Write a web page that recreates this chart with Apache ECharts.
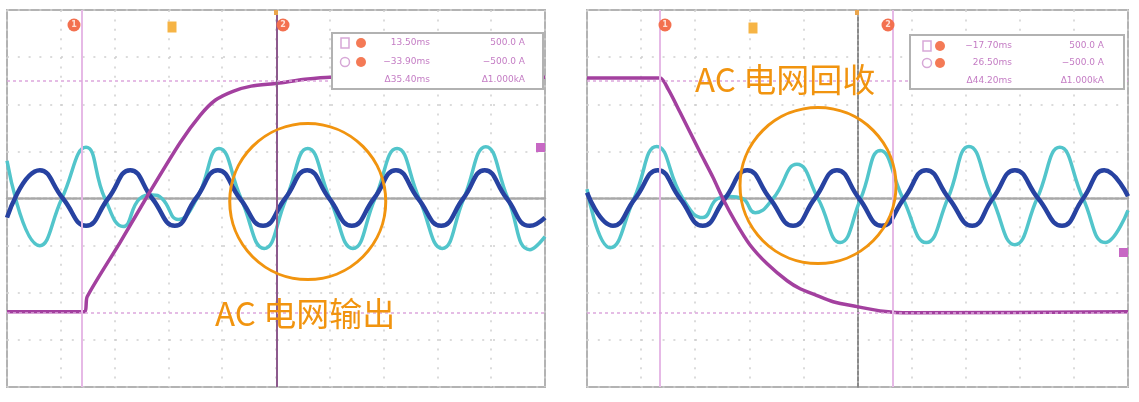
<!DOCTYPE html>
<html><head><meta charset="utf-8">
<script src="https://cdn.jsdelivr.net/npm/echarts@6/dist/echarts.min.js"></script>
<style>html,body{margin:0;padding:0;background:#fff}#c{width:1139px;height:402px}</style>
</head><body><div id="c"></div>
<script>
// ---- data: time in ms (10 ms/div), value in A (200 A/div) ----
const leftBlue = [[-50.0,-81],[-43.9,120],[-39.6,0],[-35.3,-116],[-31.2,0],[-27.1,120],[-23.0,0],[-18.8,-116],[-14.9,0],[-10.8,120],[-6.7,0],[-2.4,-116],[1.7,0],[5.8,120],[9.9,0],[14.1,-116],[18.2,0],[22.3,120],[26.4,0],[30.7,-116],[34.8,0],[38.8,120],[42.9,0],[47.2,-116],[50.0,-81]];
const leftCyan = [[-50.0,160],[-43.9,-200],[-39.8,0],[-35.3,217],[-31.8,0],[-28.4,-119],[-25.3,0],[-23.0,15],[-21.2,0],[-18.2,-89],[-14.7,0],[-10.6,212],[-6.5,0],[-2.2,-212],[1.9,0],[5.9,212],[10.0,0],[14.3,-212],[18.4,0],[22.5,212],[26.6,0],[30.9,-212],[34.9,0],[39.0,220],[43.1,0],[47.2,-217],[50.0,-162]];
const leftPurple = [[-50.0,-481],[-35.7,-481],[-35.1,-417],[-29.0,-187],[-23.4,30],[-17.8,238],[-14.1,353],[-11.3,417],[-8.0,455],[-4.6,477],[0.2,489],[5.4,506],[10.0,515],[50.0,515]];

const rightBlue = [[-50.0,25],[-45.2,-116],[-41.1,0],[-36.9,120],[-32.8,0],[-28.6,-116],[-24.5,0],[-20.4,120],[-16.2,0],[-11.9,-116],[-7.9,0],[-3.8,120],[0.3,0],[4.5,-116],[8.6,0],[12.7,120],[16.9,0],[21.2,-116],[25.0,0],[29.1,120],[33.4,0],[37.8,-116],[41.7,0],[45.6,120],[50.0,10]];
const rightCyan = [[-50.0,40],[-45.7,-209],[-41.3,0],[-37.1,221],[-32.3,0],[-28.6,-81],[-25.8,0],[-23.6,8],[-21.3,0],[-18.9,-60],[-15.6,0],[-11.2,145],[-7.3,0],[-3.2,-187],[0.6,0],[4.2,204],[8.4,0],[12.7,-187],[16.7,0],[20.6,221],[24.9,0],[29.1,-196],[33.2,0],[37.4,217],[41.7,0],[45.8,-187],[50.0,-50]];
const rightPurple = [[-50.0,511],[-36.5,511],[-35.0,464],[-32.8,366],[-29.1,196],[-26.7,89],[-24.9,0],[-22.6,-98],[-19.9,-196],[-16.7,-277],[-13.0,-349],[-10.6,-383],[-7.9,-408],[-4.5,-438],[-0.1,-459],[4.2,-477],[9.7,-485],[50.0,-481]];

const leftCursorX = [-36.1, 0.2];
const rightCursorX = [-36.5, 6.6];
const cursorLevels = [500, -485];
const leftCircleCenter = [[5.9, -13]];
const rightCircleCenter = [[-7.3, 55]];

const leftLegendTimes = ['13.50ms', '\u221233.90ms', '\u039435.40ms'];
const rightLegendTimes = ['\u221217.70ms', '26.50ms', '\u039444.20ms'];
const legendAmps = ['500.0 A', '\u2212500.0 A', '\u03941.000kA'];
const leftTitle = 'AC 电网输出';
const rightTitle = 'AC 电网回收';

// ---- colours ----
const C_BLUE = '#2742a1', C_CYAN = '#52c5cb', C_PURPLE = '#a3409f', C_ORANGE = '#f1940f';
const C_MARK = '#f3704f', C_YEL = '#f6b445', C_LEG = '#c47cc4';

const chart = echarts.init(document.getElementById('c'), null, {renderer: 'canvas'});

function xAx(i) {
  return {type: 'value', gridIndex: i, min: -50, max: 50, interval: 10,
    axisLabel: {show: false}, axisTick: {show: false},
    axisLine: {show: true, onZero: true, lineStyle: {color: '#a8a8a8', width: 2.5, type: [4, 2]}},
    splitLine: {show: true, lineStyle: {color: '#cfcfcf', width: 1.5, type: [2, 7.4]}}};
}
function yAx(i) {
  return {type: 'value', gridIndex: i, min: -800, max: 800, interval: 200,
    axisLabel: {show: false}, axisTick: {show: false},
    axisLine: {show: true, onZero: true, lineStyle: {color: i === 0 ? 'rgba(0,0,0,0)' : '#8a8a8a', width: 2, type: [4, 2]}},
    splitLine: {show: true, lineStyle: {color: '#cfcfcf', width: 1.5, type: [2, 8.8]}}};
}
function trace(data, color, width, i, z, smooth) {
  return {type: 'line', data: data, xAxisIndex: i, yAxisIndex: i, showSymbol: false, symbol: 'none',
    smooth: smooth, z: z, silent: true, animation: false,
    lineStyle: {color: color, width: width}};
}
function cursors(xs, i, centerDark) {
  const d = [];
  xs.forEach((x, k) => d.push({xAxis: x, lineStyle: {color: (centerDark && k === 1) ? '#8d5a8d' : '#e6b9e6', width: 2, type: 'solid'}}));
  cursorLevels.forEach(v => d.push({yAxis: v, lineStyle: {color: '#dda6dd', width: 1.5, type: [3, 3]}}));
  return {type: 'line', data: [], xAxisIndex: i, yAxisIndex: i, z: 1, silent: true, animation: false,
    markLine: {silent: true, symbol: ['none', 'none'], label: {show: false}, animation: false, data: d}};
}
function ring(center, i) {
  return {type: 'scatter', data: center, xAxisIndex: i, yAxisIndex: i, symbol: 'circle', symbolSize: 156,
    z: 6, silent: true, animation: false,
    itemStyle: {color: 'rgba(0,0,0,0)', borderColor: C_ORANGE, borderWidth: 3, opacity: 1}};
}

function legend(x0, y0, w, h, rowsY, symX, dotX, timeX, ampX, times) {
  const els = [{type: 'rect', shape: {x: x0, y: y0, width: w, height: h},
    style: {fill: '#fff', stroke: '#b2b2b2', lineWidth: 2}}];
  els.push({type: 'rect', shape: {x: symX - 4, y: rowsY[0] - 5, width: 8, height: 10}, style: {fill: 'none', stroke: '#d7a8d7', lineWidth: 1.5}});
  els.push({type: 'circle', shape: {cx: symX, cy: rowsY[1], r: 4.5}, style: {fill: 'none', stroke: '#d7a8d7', lineWidth: 1.5}});
  [0, 1].forEach(k => els.push({type: 'circle', shape: {cx: dotX, cy: rowsY[k], r: 5}, style: {fill: '#f47a56'}}));
  times.forEach((t, k) => els.push({type: 'text', x: timeX, y: rowsY[k],
    style: {text: t, fill: C_LEG, font: '9px "DejaVu Sans"', align: 'right', verticalAlign: 'middle'}}));
  legendAmps.forEach((t, k) => els.push({type: 'text', x: ampX, y: rowsY[k],
    style: {text: t, fill: C_LEG, font: '9px "DejaVu Sans"', align: 'right', verticalAlign: 'middle'}}));
  return els;
}
function topMarks(x1, xy, x2, y, yy, tickX) {
  return [
    {type: 'circle', shape: {cx: x1, cy: y, r: 6.5}, style: {fill: C_MARK}},
    {type: 'text', x: x1, y: y, style: {text: '1', fill: '#fde0d6', font: 'bold 8px "DejaVu Sans"', align: 'center', verticalAlign: 'middle'}},
    {type: 'rect', shape: {x: xy - 4.5, y: yy - 5.5, width: 9, height: 11}, style: {fill: C_YEL}},
    {type: 'circle', shape: {cx: x2, cy: y, r: 6.5}, style: {fill: C_MARK}},
    {type: 'text', x: x2, y: y, style: {text: '2', fill: '#fde0d6', font: 'bold 8px "DejaVu Sans"', align: 'center', verticalAlign: 'middle'}},
    {type: 'rect', shape: {x: tickX - 2, y: 10, width: 4, height: 5}, style: {fill: '#eaa54c'}}
  ];
}

let graphics = [];
graphics = graphics.concat(topMarks(74, 172, 283, 25, 27, 276));
graphics = graphics.concat(topMarks(665, 753, 888, 25, 28, 857));
graphics = graphics.concat(legend(332, 33, 211, 56, [43, 62, 80], 345, 361, 430, 525, leftLegendTimes));
graphics = graphics.concat(legend(910, 35, 214, 54, [46, 63, 81], 927, 940, 1012, 1104, rightLegendTimes));
graphics.push({type: 'rect', shape: {x: 536, y: 143, width: 9, height: 9}, style: {fill: '#c768c4'}});
graphics.push({type: 'rect', shape: {x: 1119, y: 248, width: 9, height: 9}, style: {fill: '#c768c4'}});
graphics.push({type: 'text', x: 215, y: 313, style: {text: leftTitle, fill: C_ORANGE, font: '33px "Noto Sans CJK SC"', verticalAlign: 'middle'}});
graphics.push({type: 'text', x: 695, y: 79, style: {text: rightTitle, fill: C_ORANGE, font: '33px "Noto Sans CJK SC"', verticalAlign: 'middle'}});

const option = {
  backgroundColor: '#fff',
  animation: false,
  grid: [
    {left: 7, top: 10, width: 538, height: 377, show: true, borderColor: '#b3b3b3', borderWidth: 2, backgroundColor: '#fff'},
    {left: 587, top: 10, width: 541, height: 377, show: true, borderColor: '#b3b3b3', borderWidth: 2, backgroundColor: '#fff'}
  ],
  xAxis: [xAx(0), xAx(1)],
  yAxis: [yAx(0), yAx(1)],
  series: [
    cursors(leftCursorX, 0, true),
    cursors(rightCursorX, 1, false),
    trace(leftCyan, C_CYAN, 3.5, 0, 2, 0.5),
    trace(leftBlue, C_BLUE, 4.5, 0, 3, 0.5),
    trace(leftPurple, C_PURPLE, 3.5, 0, 4, 0.25),
    trace(rightCyan, C_CYAN, 3.5, 1, 2, 0.5),
    trace(rightBlue, C_BLUE, 4.5, 1, 3, 0.5),
    trace(rightPurple, C_PURPLE, 3.5, 1, 4, 0.25),
    ring(leftCircleCenter, 0),
    ring(rightCircleCenter, 1)
  ],
  graphic: {elements: graphics.map(e => Object.assign({z: 100, silent: true}, e))}
};
chart.setOption(option);
</script></body></html>
